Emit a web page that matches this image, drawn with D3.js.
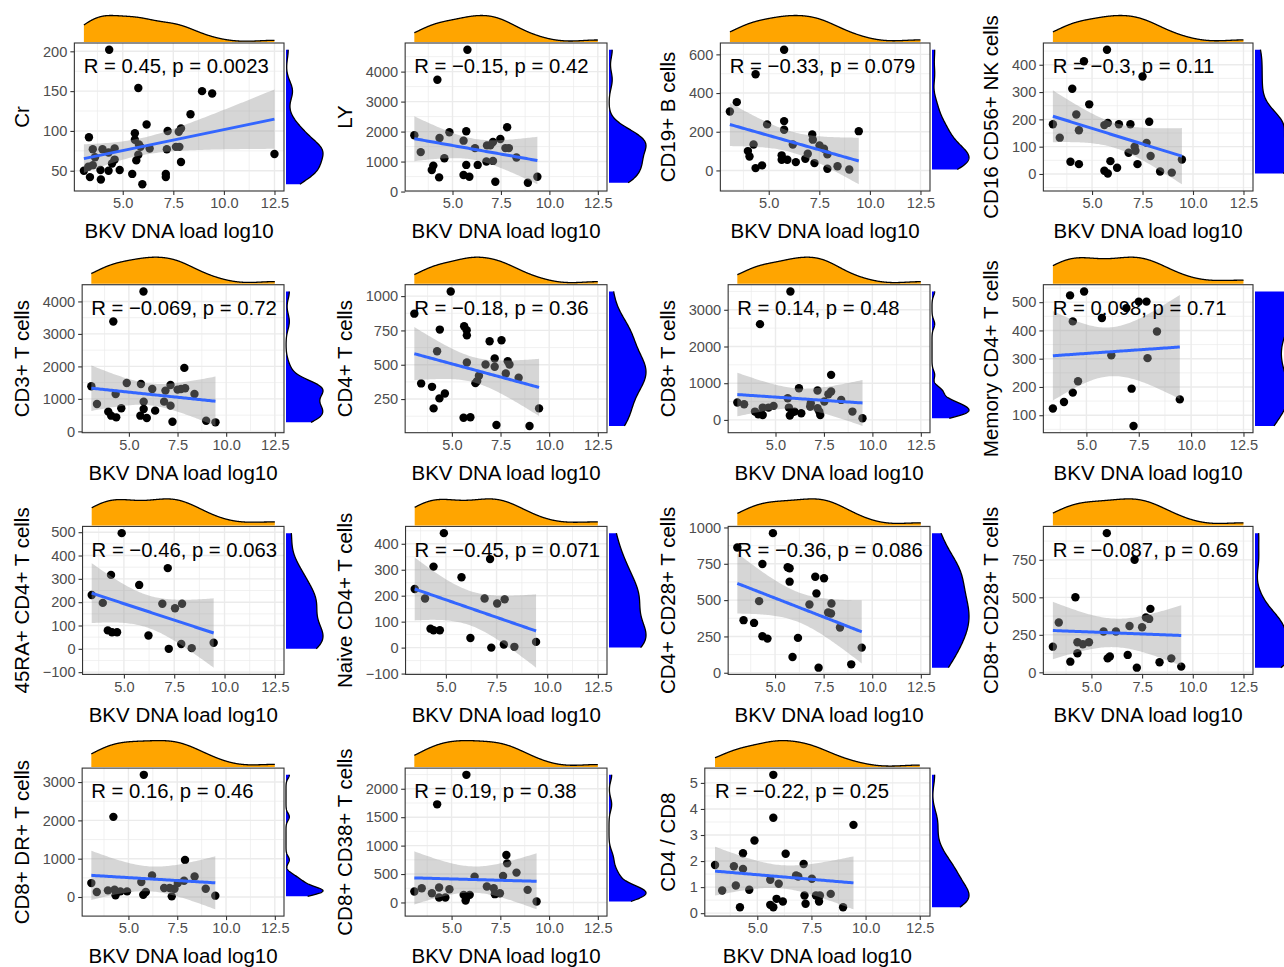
<!DOCTYPE html>
<html>
<head>
<meta charset="utf-8">
<script src="https://cdn.jsdelivr.net/npm/d3@7"></script>
<style>
body { margin: 0; background: #fff; }
svg { display: block; font-family: "Liberation Sans", Arial, sans-serif; }
</style>
</head>
<body>
<svg id="chart" width="1284" height="967"></svg>
<script>
// ---- data: BKV DNA load (log10) against each marker ----
var xCr = [4.33,5.77,8.92,9.42,8.35,6.18,7.22,7.88,7.77,5.6,5.6,3.33,5.8,3.52,4.0,4.6,4.3,4.6,4.47,3.63,3.52,3.3,3.08,3.38,3.9,3.92,4.3,4.85,5.47,5.97,5.67,5.77,6.33,7.18,7.63,7.8,7.88,7.13,7.13,12.5,5.88];
var yCr = [202,154,150,147,121,108,100,103,99,97,89,92,83,77,77,78,73,64,59,67,57,55,50,42,51,39,50,51,46,33,63,70,78,77,80,80,61,46,42,71,80];
var xLY = [5.77,4.22,3.03,3.36,4.33,4.84,4.58,4.01,3.93,4.31,5.57,5.71,5.71,5.57,5.87,6.16,6.3,6.78,6.75,7.09,7.09,7.21,7.47,7.73,7.82,7.91,8.3,8.89,9.38,6.95];
var yLY = [4730,3730,1876,1315,1787,1978,1112,865,720,472,1697,2011,888,551,494,1449,888,1539,1000,1022,1652,326,1753,1449,2146,1449,1135,292,494,1539];
var xB = [5.76,4.35,3.08,3.42,4.92,4.25,3.97,4.05,4.35,4.67,5.76,5.76,5.64,5.64,5.92,6.19,6.34,6.81,6.93,7.15,7.18,7.26,7.51,7.73,7.9,7.9,8.4,8.98,9.45];
var yB = [624,497,305,353,238,134,100,72,12,26,255,210,78,55,55,134,43,60,86,186,159,38,129,112,83,9,22,5,203];
var xNK = [5.74,4.6,4.02,4.86,3.06,3.4,4.22,4.35,3.93,4.35,5.61,5.78,5.61,5.78,5.91,6.24,6.33,6.9,6.81,7.11,7.15,7.25,7.5,7.7,7.83,7.9,8.37,8.95,9.45];
var yNK = [455,413,312,255,182,133,218,160,45,36,179,187,12,2,47,23,182,182,78,100,85,36,357,114,191,66,9,5,53];
var xCD3 = [5.75,4.2,3.07,3.36,4.32,4.89,4.61,3.94,4.09,4.35,5.62,5.76,5.76,5.59,5.92,6.2,6.35,6.81,6.88,7.14,7.14,7.24,7.5,7.68,7.89,7.85,8.37,8.97,9.45];
var yCD3 = [4308,3383,1388,843,1152,1491,710,607,483,432,1460,915,689,483,411,1306,638,915,1255,1429,792,298,1285,1306,1327,1954,1152,329,278];
var xCD4 = [4.94,3.07,4.38,5.63,5.76,5.77,4.24,5.77,6.94,7.55,6.73,7.2,7.2,7.87,7.96,7.77,8.43,6.39,6.3,6.21,3.42,3.98,4.64,4.36,4.06,5.6,5.95,7.29,8.99,9.48];
var yCD4 = [1034,872,756,780,751,714,598,516,671,678,502,545,485,526,502,436,405,420,381,366,364,339,291,255,182,114,117,61,54,182];
var xCD8 = [5.77,4.2,3.03,3.38,3.94,4.11,4.34,4.34,4.64,4.9,5.63,5.69,5.86,5.74,5.98,6.21,6.33,6.79,6.82,7.17,7.26,7.17,7.31,7.52,7.73,7.87,7.87,8.39,8.97,9.49];
var yCD8 = [3500,2609,473,427,227,155,136,336,336,382,591,336,209,118,227,864,182,364,455,800,227,318,136,500,700,773,1227,545,227,45];
var xMem = [4.22,4.89,4.35,5.74,6.91,7.5,7.87,8.37,6.19,7.92,4.6,4.35,3.93,3.4,7.16,7.25,9.46];
var yMem = [524,538,432,444,479,502,502,396,312,302,220,180,147,124,194,62,156];
var x45RA = [4.89,3.4,3.95,4.36,4.2,4.41,4.66,5.76,6.22,6.91,7.18,7.23,7.54,7.89,7.85,8.37,9.46];
var y45RA = [496,231,197,317,79,71,71,274,57,193,346,0,174,193,21,3,26];
var xNaive = [4.9,3.46,3.97,4.39,4.24,4.39,4.7,5.77,6.21,6.91,7.18,7.24,7.53,7.9,7.86,8.38,9.45];
var yNaive = [441,226,189,312,73,67,67,271,37,189,341,0,170,186,12,3,22];
var xCD4CD28 = [4.89,3.06,4.35,5.65,5.75,5.75,4.18,3.38,3.92,4.35,4.61,5.9,6.18,7.07,7.52,7.13,6.77,7.73,7.88,7.9,8.34,7.24,8.92,9.46];
var yCD4CD28 = [961,862,749,726,719,627,493,362,343,251,235,108,240,661,650,546,470,415,408,477,311,35,58,173];
var xCD8CD28 = [5.76,7.13,4.21,3.1,3.39,3.96,4.31,4.31,4.58,4.88,5.6,5.8,5.91,6.21,6.79,6.88,7.24,7.5,7.69,7.85,7.91,8.36,8.94,9.43];
var yCD8CD28 = [928,750,501,171,332,71,127,200,187,200,272,93,105,272,116,309,31,300,365,356,423,67,93,38];
var xDR = [5.79,4.23,3.1,3.38,3.95,4.29,4.34,4.59,4.93,5.66,5.76,5.89,6.21,6.83,7.11,7.22,7.36,7.53,7.85,7.9,8.39,8.96,9.45];
var yDR = [3189,2092,363,130,173,190,43,147,147,389,60,130,562,233,233,17,216,363,424,968,536,216,35];
var xCD38 = [5.76,4.26,3.09,3.47,3.99,4.36,4.36,4.68,4.89,5.62,5.72,5.76,5.93,6.18,6.81,7.16,7.22,7.48,7.64,7.81,7.85,8.33,8.9,9.36];
var yCD38 = [2245,1726,192,251,163,262,87,87,233,134,35,87,134,455,280,251,146,163,466,834,688,525,222,17];
var xRatio = [5.74,5.74,9.44,4.87,4.34,6.31,3.05,3.92,4.34,7.14,6.79,6.89,4.01,3.38,4.63,5.6,5.99,7.52,7.18,7.71,7.89,8.39,5.89,6.18,5.6,5.74,4.2,7.23,7.85,8.96];
var yRatio = [5.31,3.66,3.39,2.79,2.3,2.28,1.85,1.8,1.7,1.89,1.45,1.41,1.06,0.87,0.9,1.28,1.13,1.32,0.68,0.68,0.68,0.74,0.55,0.45,0.32,0.23,0.23,0.36,0.45,0.23];

// the sample with BKV load but no lymphocyte counts (kept in x range / x density)
var xNoCounts = [12.5];

var yTitles = ["Cr", "LY", "CD19+ B cells", "CD16 CD56+ NK cells",
	"CD3+ T cells", "CD4+ T cells", "CD8+ T cells", "Memory CD4+ T cells",
	"45RA+ CD4+ T cells", "Naive CD4+ T cells", "CD4+ CD28+ T cells", "CD8+ CD28+ T cells",
	"CD8+ DR+ T cells", "CD8+ CD38+ T cells", "CD4 / CD8"];
var corLabels = ["R = 0.45, p = 0.0023", "R = \u22120.15, p = 0.42", "R = \u22120.33, p = 0.079", "R = \u22120.3, p = 0.11",
	"R = \u22120.069, p = 0.72", "R = \u22120.18, p = 0.36", "R = 0.14, p = 0.48", "R = 0.098, p = 0.71",
	"R = \u22120.46, p = 0.063", "R = \u22120.45, p = 0.071", "R = \u22120.36, p = 0.086", "R = \u22120.087, p = 0.69",
	"R = 0.16, p = 0.46", "R = 0.19, p = 0.38", "R = \u22120.22, p = 0.25"];
var yTickSets = [[50,100,150,200], [0,1000,2000,3000,4000], [0,200,400,600], [0,100,200,300,400],
	[0,1000,2000,3000,4000], [250,500,750,1000], [0,1000,2000,3000], [100,200,300,400,500],
	[-100,0,100,200,300,400,500], [-100,0,100,200,300,400], [0,250,500,750,1000], [0,250,500,750],
	[0,1000,2000,3000], [0,500,1000,1500,2000], [0,1,2,3,4,5]];
var xTicks = [5, 7.5, 10, 12.5];
var xTitle = "BKV DNA load log10";

var xSets = [xCr, xLY, xB, xNK, xCD3, xCD4, xCD8, xMem, x45RA, xNaive, xCD4CD28, xCD8CD28, xDR, xCD38, xRatio];
var ySets = [yCr, yLY, yB, yNK, yCD3, yCD4, yCD8, yMem, y45RA, yNaive, yCD4CD28, yCD8CD28, yDR, yCD38, yRatio];

// ---- helpers ----
// t quantile (0.975) by Cornish-Fisher expansion
function tQuantile(df) {
	var z = 1.959964;
	var g1 = (Math.pow(z,3) + z) / 4;
	var g2 = (5*Math.pow(z,5) + 16*Math.pow(z,3) + 3*z) / 96;
	var g3 = (3*Math.pow(z,7) + 19*Math.pow(z,5) + 17*Math.pow(z,3) - 15*z) / 384;
	return z + g1/df + g2/(df*df) + g3/(df*df*df);
}

// lm fit with 95% confidence band, like geom_smooth(method = "lm")
function linFit(xs, ys) {
	var n = xs.length, mx = d3.mean(xs), my = d3.mean(ys);
	var sxx = 0, sxy = 0, sse = 0;
	xs.forEach(function(x, i) { sxx += (x-mx)*(x-mx); sxy += (x-mx)*(ys[i]-my); });
	var b = sxy / sxx, a = my - b*mx;
	xs.forEach(function(x, i) { var r = ys[i] - a - b*x; sse += r*r; });
	var s = Math.sqrt(sse / (n-2)), t = tQuantile(n-2);
	var ext = d3.extent(xs);
	return d3.range(80).map(function(i) {
		var xv = ext[0] + (ext[1]-ext[0])*i/79;
		var f = a + b*xv;
		var se = s * Math.sqrt(1/n + (xv-mx)*(xv-mx)/sxx);
		return {x: xv, y: f, lo: f - t*se, hi: f + t*se};
	});
}

// gaussian kernel density with R's bw.nrd0, over the data range
function density(values) {
	var v = values.slice().sort(d3.ascending), n = v.length;
	var sd = d3.deviation(v), iqr = d3.quantile(v, 0.75) - d3.quantile(v, 0.25);
	var lo = Math.min(sd, iqr/1.34);
	if (!(lo > 0)) lo = sd;
	var bw = 0.9 * lo * Math.pow(n, -0.2);
	var ext = d3.extent(v);
	return d3.range(512).map(function(i) {
		var t = ext[0] + (ext[1]-ext[0])*i/511, s = 0;
		v.forEach(function(d) { var z = (t-d)/bw; s += Math.exp(-0.5*z*z); });
		return [t, s / (n*bw*Math.sqrt(2*Math.PI))];
	});
}

function expand(ext) {
	var pad = (ext[1]-ext[0]) * 0.05;
	return [ext[0]-pad, ext[1]+pad];
}

function minors(ticks, domain) {
	var step = ticks[1] - ticks[0], out = [];
	for (var v = ticks[0] - step/2; v <= domain[1]; v += step) {
		if (v >= domain[0]) out.push(v);
	}
	return out;
}

// ---- drawing ----
var svg = d3.select("#chart");
var measure = svg.append("text").attr("font-size", 14).attr("visibility", "hidden");
function textWidth(s) { measure.text(s); return measure.node().getComputedTextLength(); }

var cellW = 323, rowH = 241.7, plotH = 148;
var fmtY = d3.format("d"), fmtX = d3.format(".1f");

xSets.forEach(function(xs, i) {
	var ys = ySets[i];
	var col = i % 4, row = Math.floor(i / 4);
	var cx = col * cellW;
	var top = 43 + row * rowH, bottom = top + plotH;
	var right = cx + 284;
	var ticks = yTickSets[i];
	var left = cx + 51 + d3.max(ticks, function(t) { return textWidth(fmtY(t)); });

	var allX = i === 0 ? xs : xs.concat(xNoCounts);
	var fit = linFit(xs, ys);
	var yExt = d3.extent(ys.concat(fit.map(function(d) { return d.lo; }), fit.map(function(d) { return d.hi; })));

	var x = d3.scaleLinear().domain(expand(d3.extent(allX))).range([left, right]);
	var y = d3.scaleLinear().domain(expand(yExt)).range([bottom, top]);

	var g = svg.append("g");

	// grid
	minors(xTicks, x.domain()).forEach(function(v) {
		g.append("line").attr("x1", x(v)).attr("x2", x(v)).attr("y1", top).attr("y2", bottom)
			.attr("stroke", "#EBEBEB").attr("stroke-width", 0.7);
	});
	minors(ticks, y.domain()).forEach(function(v) {
		g.append("line").attr("x1", left).attr("x2", right).attr("y1", y(v)).attr("y2", y(v))
			.attr("stroke", "#EBEBEB").attr("stroke-width", 0.7);
	});
	xTicks.forEach(function(v) {
		g.append("line").attr("x1", x(v)).attr("x2", x(v)).attr("y1", top).attr("y2", bottom)
			.attr("stroke", "#EBEBEB").attr("stroke-width", 1.4);
	});
	ticks.forEach(function(v) {
		g.append("line").attr("x1", left).attr("x2", right).attr("y1", y(v)).attr("y2", y(v))
			.attr("stroke", "#EBEBEB").attr("stroke-width", 1.4);
	});

	// points
	g.selectAll("circle").data(xs).enter().append("circle")
		.attr("cx", function(d) { return x(d); })
		.attr("cy", function(d, j) { return y(ys[j]); })
		.attr("r", 4.2)
		.attr("fill", "#000");

	// confidence band and fitted line
	g.append("path").datum(fit)
		.attr("d", d3.area().x(function(d) { return x(d.x); }).y0(function(d) { return y(d.lo); }).y1(function(d) { return y(d.hi); }))
		.attr("fill", "#999999").attr("fill-opacity", 0.4);
	g.append("path").datum(fit)
		.attr("d", d3.line().x(function(d) { return x(d.x); }).y(function(d) { return y(d.y); }))
		.attr("fill", "none").attr("stroke", "#3366FF").attr("stroke-width", 3);

	// panel border
	g.append("rect").attr("x", left).attr("y", top).attr("width", right-left).attr("height", plotH)
		.attr("fill", "none").attr("stroke", "#333333").attr("stroke-width", 1.1);

	// axes
	g.append("g").attr("transform", "translate(0," + bottom + ")")
		.call(d3.axisBottom(x).tickValues(xTicks).tickFormat(fmtX).tickSizeOuter(0).tickSize(4).tickPadding(3))
		.call(function(a) { a.select(".domain").remove(); });
	g.append("g").attr("transform", "translate(" + left + ",0)")
		.call(d3.axisLeft(y).tickValues(ticks).tickFormat(fmtY).tickSizeOuter(0).tickSize(4).tickPadding(3))
		.call(function(a) { a.select(".domain").remove(); });
	g.selectAll(".tick line").attr("stroke", "#333333").attr("stroke-width", 1.1);
	g.selectAll(".tick text").attr("fill", "#4D4D4D").attr("font-size", 14.6)
		.attr("font-family", "'Liberation Sans', Arial, sans-serif");

	// correlation label
	g.append("text").attr("x", left + 0.045*(right-left)).attr("y", top + 23).attr("dy", "0.35em")
		.attr("font-size", 20.3).attr("fill", "#000").text(corLabels[i]);

	// top marginal density of x
	var dx = density(allX);
	var base = top - 1;
	var hy = d3.scaleLinear().domain([0, d3.max(dx, function(d) { return d[1]; })]).range([base, base - 26.5]);
	g.append("path").datum(dx)
		.attr("d", d3.area().x(function(d) { return x(d[0]); }).y0(base).y1(function(d) { return hy(d[1]); }))
		.attr("fill", "orange");
	g.append("path").datum(dx)
		.attr("d", d3.line().x(function(d) { return x(d[0]); }).y(function(d) { return hy(d[1]); }))
		.attr("fill", "none").attr("stroke", "#000").attr("stroke-width", 1.3);

	// right marginal density of y
	var dy = density(ys);
	var rbase = right + 2;
	var hx = d3.scaleLinear().domain([0, d3.max(dy, function(d) { return d[1]; })]).range([rbase, rbase + 37]);
	g.append("path").datum(dy)
		.attr("d", d3.area().y(function(d) { return y(d[0]); }).x0(rbase).x1(function(d) { return hx(d[1]); }))
		.attr("fill", "blue");
	g.append("path").datum(dy)
		.attr("d", d3.line().y(function(d) { return y(d[0]); }).x(function(d) { return hx(d[1]); }))
		.attr("fill", "none").attr("stroke", "#000").attr("stroke-width", 1.3);

	// axis titles
	g.append("text").attr("x", (left+right)/2).attr("y", bottom + 40).attr("dy", "0.35em")
		.attr("text-anchor", "middle").attr("font-size", 20.5).text(xTitle);
	g.append("text").attr("transform", "translate(" + (cx+22) + "," + ((top+bottom)/2) + ") rotate(-90)")
		.attr("dy", "0.35em").attr("text-anchor", "middle").attr("font-size", 20.5).text(yTitles[i]);
});

measure.remove();
</script>
</body>
</html>
